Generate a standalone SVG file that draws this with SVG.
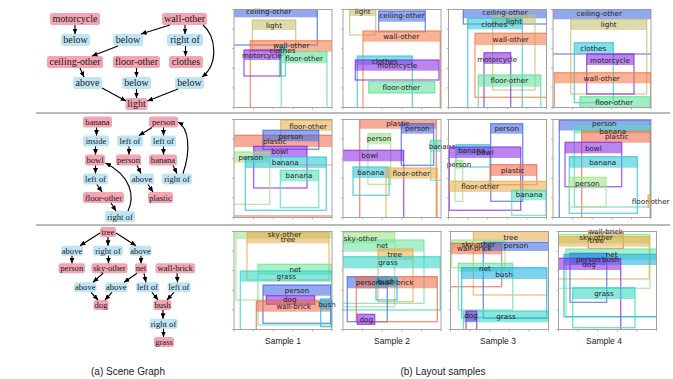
<svg xmlns="http://www.w3.org/2000/svg" width="673" height="379" viewBox="0 0 673 379">
<style>
.sg text{font-family:"Liberation Serif","Times New Roman",serif;text-anchor:middle;fill:#1a1a1a}
.r1 text{font-size:10px}
.r23 text{font-size:8.6px}
.obj{fill:#f3a5b3}
.rel{fill:#bfe5f4}
.edges path{stroke:#000;stroke-width:1.15;fill:none;marker-end:url(#ah)}
.frame{fill:none;stroke:#9a9a9a;stroke-width:0.9}
.tick{stroke:#9a9a9a;stroke-width:0.7;fill:none}
.o{fill:none;stroke:currentColor;stroke-width:1.3;stroke-opacity:0.75}
.f{fill:currentColor;fill-opacity:0.58;stroke:none}
.lab{font-family:"DejaVu Sans",sans-serif;font-size:7.2px;text-anchor:middle;fill:#222}
.cap{font-family:"Liberation Sans",Arial,sans-serif;text-anchor:middle;fill:#222}
.sep{stroke:#777;stroke-width:1}
.blue{color:#4169e1}.khaki{color:#c8c070}.coral{color:#f57a4a}.turq{color:#2cc6d8}
.purple{color:#8a2be2}.mint{color:#5ee09a}.tan{color:#e9ae4e}.salmon{color:#f26a4c}
.lgreen{color:#9ce48a}.aqua{color:#4fe0b8}.grass{color:#36d6c4}.bush{color:#1fb2e6}.net{color:#6ce4a0}
</style>
<defs>
<marker id="ah" markerUnits="userSpaceOnUse" markerWidth="5.5" markerHeight="5" refX="5.5" refY="2.5" orient="auto"><path d="M0,0L5.5,2.5L0,5z" fill="#000"/></marker>
<g id="ax"><rect class="frame" width="98" height="98"/><path class="tick" d="M-2,0h2M-2,19.6h2M-2,39.2h2M-2,58.8h2M-2,78.4h2M-2,98h2M0,98v2M19.6,98v2M39.2,98v2M58.8,98v2M78.4,98v2M98,98v2"/></g>
<clipPath id="c11"><rect x="234" y="9.5" width="98" height="98"/></clipPath>
<clipPath id="c12"><rect x="343" y="9.5" width="98" height="98"/></clipPath>
<clipPath id="c13"><rect x="448.5" y="9.5" width="98" height="98"/></clipPath>
<clipPath id="c14"><rect x="553" y="9.5" width="98" height="98"/></clipPath>
<clipPath id="c21"><rect x="234" y="119.5" width="98" height="98"/></clipPath>
<clipPath id="c22"><rect x="343" y="119.5" width="98" height="98"/></clipPath>
<clipPath id="c23"><rect x="448.5" y="119.5" width="98" height="98"/></clipPath>
<clipPath id="c24"><rect x="553" y="119.5" width="98" height="98"/></clipPath>
<clipPath id="c31"><rect x="234" y="231.5" width="98" height="98"/></clipPath>
<clipPath id="c32"><rect x="343" y="231.5" width="98" height="98"/></clipPath>
<clipPath id="c33"><rect x="450.5" y="231.5" width="98" height="98"/></clipPath>
<clipPath id="c34"><rect x="558.5" y="231.5" width="98" height="98"/></clipPath>
</defs>
<rect width="673" height="379" fill="#fff"/>
<line class="sep" x1="36" y1="113" x2="670" y2="113"/>
<line class="sep" x1="36" y1="225" x2="670" y2="225"/>

<!-- Scene graph row 1 -->
<g class="sg r1">
<g id="n1"><rect class="obj" x="50" y="13" width="50" height="12" rx="2.5"/><text x="75" y="22.4">motorcycle</text></g>
<g id="n2"><rect class="obj" x="162" y="13" width="45" height="12" rx="2.5"/><text x="184.5" y="22.4">wall-other</text></g>
<g id="n3"><rect class="rel" x="61" y="34" width="29" height="12" rx="2.5"/><text x="75.5" y="43.4">below</text></g>
<g id="n4"><rect class="rel" x="113" y="34" width="30" height="12" rx="2.5"/><text x="128" y="43.4">below</text></g>
<g id="n5"><rect class="rel" x="167" y="34" width="36" height="12" rx="2.5"/><text x="185" y="43.4">right of</text></g>
<g id="n6"><rect class="obj" x="47" y="56" width="56" height="12" rx="2.5"/><text x="75" y="65.4">ceiling-other</text></g>
<g id="n7"><rect class="obj" x="113" y="56" width="47" height="12" rx="2.5"/><text x="136.5" y="65.4">floor-other</text></g>
<g id="n8"><rect class="obj" x="169" y="56" width="34" height="12" rx="2.5"/><text x="186" y="65.4">clothes</text></g>
<g id="n9"><rect class="rel" x="73" y="77" width="29" height="12" rx="2.5"/><text x="87.5" y="86.4">above</text></g>
<g id="n10"><rect class="rel" x="122" y="77" width="29" height="12" rx="2.5"/><text x="136.5" y="86.4">below</text></g>
<g id="n11"><rect class="rel" x="175" y="77" width="29" height="12" rx="2.5"/><text x="189.5" y="86.4">below</text></g>
<g id="n12"><rect class="obj" x="125.5" y="98" width="22" height="12" rx="2.5"/><text x="136.5" y="107.4">light</text></g>
</g>

<!-- Scene graph row 2 -->
<g class="sg r23">
<g id="m1"><rect class="obj" x="83" y="116.5" width="29" height="11" rx="2.5"/><text x="97.5" y="125">banana</text></g>
<g id="m2"><rect class="obj" x="149" y="116.5" width="29" height="11" rx="2.5"/><text x="163.5" y="125">person</text></g>
<g id="m3"><rect class="rel" x="83" y="135.5" width="26" height="11" rx="2.5"/><text x="96" y="144">inside</text></g>
<g id="m4"><rect class="rel" x="117" y="135.5" width="26" height="11" rx="2.5"/><text x="130" y="144">left of</text></g>
<g id="m5"><rect class="rel" x="151" y="135.5" width="25" height="11" rx="2.5"/><text x="163.5" y="144">left of</text></g>
<g id="m6"><rect class="obj" x="85" y="154.5" width="20" height="11" rx="2.5"/><text x="95" y="163">bowl</text></g>
<g id="m7"><rect class="obj" x="116" y="154.5" width="25" height="11" rx="2.5"/><text x="128.5" y="163">person</text></g>
<g id="m8"><rect class="obj" x="149" y="154.5" width="28" height="11" rx="2.5"/><text x="163" y="163">banana</text></g>
<g id="m9"><rect class="rel" x="83" y="173.5" width="25" height="11" rx="2.5"/><text x="95.5" y="182">left of</text></g>
<g id="m10"><rect class="rel" x="130" y="173.5" width="24" height="11" rx="2.5"/><text x="142" y="182">above</text></g>
<g id="m11"><rect class="rel" x="162" y="173.5" width="30" height="11" rx="2.5"/><text x="177" y="182">right of</text></g>
<g id="m12"><rect class="obj" x="83" y="192" width="41" height="11" rx="2.5"/><text x="103.5" y="200.5">floor-other</text></g>
<g id="m13"><rect class="obj" x="148" y="192" width="25" height="11" rx="2.5"/><text x="160.5" y="200.5">plastic</text></g>
<g id="m14"><rect class="rel" x="105" y="211" width="30" height="11" rx="2.5"/><text x="120" y="219.5">right of</text></g>
</g>

<!-- Scene graph row 3 -->
<g class="sg r23">
<g id="k1"><rect class="obj" x="100" y="227" width="16" height="10" rx="2.5"/><text x="108" y="235">tree</text></g>
<g id="k2"><rect class="rel" x="61" y="245.7" width="22" height="10" rx="2.5"/><text x="72" y="253.7">above</text></g>
<g id="k3"><rect class="rel" x="93" y="245.7" width="30" height="10" rx="2.5"/><text x="108" y="253.7">right of</text></g>
<g id="k4"><rect class="rel" x="129.5" y="245.7" width="22" height="10" rx="2.5"/><text x="140.5" y="253.7">above</text></g>
<g id="k5"><rect class="obj" x="58.5" y="263.3" width="26.5" height="10" rx="2.5"/><text x="71.75" y="271.3">person</text></g>
<g id="k6"><rect class="obj" x="91.5" y="263.3" width="36" height="10" rx="2.5"/><text x="109.5" y="271.3">sky-other</text></g>
<g id="k7"><rect class="obj" x="135" y="263.3" width="12" height="10" rx="2.5"/><text x="141" y="271.3">net</text></g>
<g id="k8"><rect class="obj" x="155.5" y="263.3" width="39.5" height="10" rx="2.5"/><text x="175.25" y="271.3">wall-brick</text></g>
<g id="k9"><rect class="rel" x="74" y="282.3" width="22.5" height="10" rx="2.5"/><text x="85.25" y="290.3">above</text></g>
<g id="k10"><rect class="rel" x="105" y="282.3" width="22.5" height="10" rx="2.5"/><text x="116.25" y="290.3">above</text></g>
<g id="k11"><rect class="rel" x="136" y="282.3" width="23" height="10" rx="2.5"/><text x="147.5" y="290.3">left of</text></g>
<g id="k12"><rect class="rel" x="167.5" y="282.3" width="23" height="10" rx="2.5"/><text x="179" y="290.3">left of</text></g>
<g id="k13"><rect class="obj" x="93.5" y="300" width="15" height="10" rx="2.5"/><text x="101" y="308">dog</text></g>
<g id="k14"><rect class="obj" x="153.5" y="300" width="18" height="10" rx="2.5"/><text x="162.5" y="308">bush</text></g>
<g id="k15"><rect class="rel" x="149.5" y="318.7" width="28" height="10" rx="2.5"/><text x="163.5" y="326.7">right of</text></g>
<g id="k16"><rect class="obj" x="154" y="337" width="20" height="10" rx="2.5"/><text x="164" y="345">grass</text></g>
</g>

<g class="edges" id="connectors">
<path d="M75,25V34"/>
<path d="M170,25L141,34"/>
<path d="M185,25V34"/>
<path d="M203,25C216,36 219,64 202,77"/>
<path d="M118,46L92,56"/>
<path d="M185.5,46V56"/>
<path d="M80,68L84,77"/>
<path d="M136.5,68V77"/>
<path d="M102,88L126,101"/>
<path d="M136.5,89V98"/>
<path d="M178,89L147.5,101"/>

<path d="M96.5,127.5V135.5"/>
<path d="M95.5,146.5V154.5"/>
<path d="M95.5,165.5V173.5"/>
<path d="M97,184.5L102,192"/>
<path d="M111,203L116,211"/>
<path d="M128,211C135,196 131,176 105.5,163"/>
<path d="M152,127.5L139,135.5"/>
<path d="M163.5,127.5V135.5"/>
<path d="M129,146.5V154.5"/>
<path d="M163.5,146.5V154.5"/>
<path d="M137,165.5L141,173.5"/>
<path d="M173,165.5L177,173.5"/>
<path d="M148,184.5L153,192"/>
<path d="M183,173.5C191,150 189,128 178,122"/>

<path d="M100,233L80,245.7"/>
<path d="M108,237V245.7"/>
<path d="M116,233L136,245.7"/>
<path d="M72,255.7V263.3"/>
<path d="M108.5,255.7V263.3"/>
<path d="M141,255.7V263.3"/>
<path d="M103,273.3L93,282.3"/>
<path d="M137,273.3L124,282.3"/>
<path d="M144,273.3L146,282.3"/>
<path d="M177,273.3L177.5,282.3"/>
<path d="M91,292.3L98,300"/>
<path d="M112,292.3L105,300"/>
<path d="M152,292.3L158,300"/>
<path d="M174,292.3L167,300"/>
<path d="M163,310V318.7"/>
<path d="M163.5,328.7V337"/>
</g>

<!-- Row 1 layouts -->
<g id="r1p1">
<g clip-path="url(#c11)">
<g class="blue"><rect class="o" x="220" y="9.3" width="97.3" height="35.7"/><rect class="f" x="220" y="9.3" width="97.3" height="8"/></g>
<g class="khaki"><rect class="o" x="252.3" y="20" width="43.4" height="30"/><rect class="f" x="252.3" y="20" width="43.4" height="10"/></g>
<g class="coral"><rect class="o" x="250.3" y="40.7" width="86" height="72"/><rect class="f" x="250.3" y="40.7" width="86" height="11"/></g>
<g class="turq"><rect class="o" x="279.5" y="47" width="6" height="29"/><rect class="f" x="279.5" y="47" width="6" height="9"/></g>
<g class="purple"><rect class="o" x="244" y="50" width="36.7" height="26"/><rect class="f" x="244" y="50" width="36.7" height="10"/></g>
<g class="mint"><rect class="o" x="281.3" y="51.7" width="45.7" height="60"/><rect class="f" x="281.3" y="51.7" width="45.7" height="11.6"/></g>
</g>
<text class="lab" x="268.7" y="14">ceiling-other</text>
<text class="lab" x="274" y="27.5">light</text>
<text class="lab" x="291.3" y="47.6">wall-other</text>
<text class="lab" x="282.5" y="52.6">clothes</text>
<text class="lab" x="262" y="57.6">motorcycle</text>
<text class="lab" x="304" y="60.9">floor-other</text>
<use href="#ax" x="234" y="9.5"/>
</g>

<g id="r1p2">
<g clip-path="url(#c12)">
<g class="khaki"><rect class="o" x="349.7" y="2" width="26" height="33"/><rect class="f" x="349.7" y="2" width="26" height="14"/></g>
<g class="blue"><rect class="o" x="378.7" y="11" width="46.6" height="20.7"/><rect class="f" x="378.7" y="11" width="46.6" height="10.7"/></g>
<g class="coral"><rect class="o" x="363" y="31" width="77.3" height="82"/><rect class="f" x="363" y="31" width="77.3" height="10.7"/></g>
<g class="turq"><rect class="o" x="357.3" y="56" width="55" height="55"/><rect class="f" x="357.3" y="56" width="55" height="9"/></g>
<g class="purple"><rect class="o" x="355.3" y="60" width="83.7" height="20"/><rect class="f" x="355.3" y="60" width="83.7" height="10.7"/></g>
<g class="mint"><rect class="o" x="368.7" y="81.7" width="66" height="11.3"/><rect class="f" x="368.7" y="81.7" width="66" height="11.3"/></g>
</g>
<text class="lab" x="362.7" y="13.8">light</text>
<text class="lab" x="402" y="17.8">ceiling-other</text>
<text class="lab" x="401.3" y="38.5">wall-other</text>
<text class="lab" x="384.7" y="64.2">clothes</text>
<text class="lab" x="397.3" y="68.2">motorcycle</text>
<text class="lab" x="401.3" y="89.8">floor-other</text>
<use href="#ax" x="343" y="9.5"/>
</g>

<g id="r1p3">
<g clip-path="url(#c13)">
<g class="blue"><rect class="o" x="463.3" y="4" width="83.7" height="20"/><rect class="f" x="463.3" y="4" width="83.7" height="14.3"/></g>
<g class="khaki"><rect class="o" x="492.7" y="15" width="42.3" height="75"/><rect class="f" x="492.7" y="15" width="42.3" height="10"/></g>
<g class="turq"><rect class="o" x="467.7" y="18.3" width="54.6" height="95"/><rect class="f" x="467.7" y="18.3" width="54.6" height="11"/></g>
<g class="coral"><rect class="o" x="475" y="33.3" width="71.7" height="64"/><rect class="f" x="475" y="33.3" width="71.7" height="11.7"/></g>
<g class="purple"><rect class="o" x="484" y="52.7" width="26.7" height="60"/><rect class="f" x="484" y="52.7" width="26.7" height="11.3"/></g>
<g class="mint"><rect class="o" x="478.3" y="75" width="62.4" height="40"/><rect class="f" x="478.3" y="75" width="62.4" height="11.7"/></g>
</g>
<text class="lab" x="505" y="15.2">ceiling-other</text>
<text class="lab" x="514" y="23.5">light</text>
<text class="lab" x="494.3" y="26.5">clothes</text>
<text class="lab" x="510.7" y="41.5">wall-other</text>
<text class="lab" x="497.3" y="61.5">motorcycle</text>
<text class="lab" x="509.3" y="83.2">floor-other</text>
<use href="#ax" x="448.5" y="9.5"/>
</g>

<g id="r1p4">
<g clip-path="url(#c14)">
<g class="blue"><rect class="o" x="547" y="9.3" width="104.6" height="44.7"/><rect class="f" x="547" y="9.3" width="104.6" height="10"/></g>
<g class="khaki"><rect class="o" x="570.7" y="19.3" width="76" height="74.7"/><rect class="f" x="570.7" y="19.3" width="76" height="10.7"/></g>
<g class="turq"><rect class="o" x="574.3" y="42.7" width="39" height="60"/><rect class="f" x="574.3" y="42.7" width="39" height="10.6"/></g>
<g class="purple"><rect class="o" x="586.7" y="54" width="47.3" height="40"/><rect class="f" x="586.7" y="54" width="47.3" height="11"/></g>
<g class="coral"><rect class="o" x="554.3" y="72.7" width="96.4" height="40"/><rect class="f" x="554.3" y="72.7" width="96.4" height="10.6"/></g>
<g class="mint"><rect class="o" x="580" y="96.7" width="70" height="15"/><rect class="f" x="580" y="96.7" width="70" height="11.6"/></g>
</g>
<text class="lab" x="599.3" y="15.8">ceiling-other</text>
<text class="lab" x="608.7" y="26.8">light</text>
<text class="lab" x="593.3" y="50.8">clothes</text>
<text class="lab" x="610" y="62.5">motorcycle</text>
<text class="lab" x="601.7" y="80.8">wall-other</text>
<text class="lab" x="614" y="105.2">floor-other</text>
<use href="#ax" x="553" y="9.5"/>
</g>

<!-- Row 2 layouts -->
<g id="r2p1">
<g clip-path="url(#c21)">
<g class="salmon"><rect class="o" x="215" y="135.3" width="119" height="80.7"/><rect class="f" x="215" y="135.3" width="119" height="11.7"/></g>
<g class="tan"><rect class="o" x="280.7" y="120.3" width="56" height="44.7"/><rect class="f" x="280.7" y="120.3" width="56" height="10.7"/></g>
<g class="blue"><rect class="o" x="263" y="130.3" width="55.7" height="19"/><rect class="f" x="263" y="130.3" width="55.7" height="11"/></g>
<g class="purple"><rect class="o" x="253.7" y="146.3" width="53.3" height="41.7"/><rect class="f" x="253.7" y="146.3" width="53.3" height="10.7"/></g>
<g class="lgreen"><rect class="o" x="231.7" y="152" width="38" height="52.3"/><rect class="f" x="231.7" y="152" width="38" height="10.7"/></g>
<g class="turq"><rect class="o" x="245.3" y="157" width="81" height="53.3"/><rect class="f" x="245.3" y="157" width="81" height="11"/></g>
<g class="aqua"><rect class="o" x="280.3" y="170.3" width="38.4" height="37.4"/><rect class="f" x="280.3" y="170.3" width="38.4" height="11"/></g>
</g>
<text class="lab" x="308" y="128.5">floor-other</text>
<text class="lab" x="290.7" y="138.5">person</text>
<text class="lab" x="274.7" y="143.8">plastic</text>
<text class="lab" x="279.7" y="153.8">bowl</text>
<text class="lab" x="250.7" y="159.8">person</text>
<text class="lab" x="285.3" y="165.2">banana</text>
<text class="lab" x="299" y="177.8">banana</text>
<use href="#ax" x="234" y="119.5"/>
</g>

<g id="r2p2">
<g clip-path="url(#c22)">
<g class="salmon"><rect class="o" x="359.7" y="112" width="76.6" height="110"/><rect class="f" x="359.7" y="112" width="76.6" height="16.7"/></g>
<g class="blue"><rect class="o" x="401.3" y="123.7" width="32.4" height="41.6"/><rect class="f" x="401.3" y="123.7" width="32.4" height="10"/></g>
<g class="lgreen"><rect class="o" x="368" y="133.7" width="22.7" height="50.6"/><rect class="f" x="368" y="133.7" width="22.7" height="10.6"/></g>
<g class="aqua"><rect class="o" x="430.7" y="140.3" width="23.3" height="40"/><rect class="f" x="430.7" y="140.3" width="23.3" height="11.7"/></g>
<g class="purple"><rect class="o" x="335" y="150.3" width="68.7" height="72"/><rect class="f" x="335" y="150.3" width="68.7" height="11"/></g>
<g class="turq"><rect class="o" x="353" y="167" width="36" height="28.3"/><rect class="f" x="353" y="167" width="36" height="11"/></g>
<g class="tan"><rect class="o" x="386" y="168" width="51.3" height="54"/><rect class="f" x="386" y="168" width="51.3" height="10.7"/></g>
</g>
<text class="lab" x="398" y="125.5">plastic</text>
<text class="lab" x="417.3" y="130.5">person</text>
<text class="lab" x="379" y="141.2">person</text>
<text class="lab" x="442.3" y="148.8">banana</text>
<text class="lab" x="369.7" y="157.8">bowl</text>
<text class="lab" x="370.7" y="175.2">banana</text>
<text class="lab" x="411.3" y="176.2">floor-other</text>
<use href="#ax" x="343" y="119.5"/>
</g>

<g id="r2p3">
<g clip-path="url(#c23)">
<g class="blue"><rect class="o" x="490.7" y="123.7" width="32" height="77.6"/><rect class="f" x="490.7" y="123.7" width="32" height="10"/></g>
<g class="turq"><rect class="o" x="456" y="144.7" width="34" height="22.3"/><rect class="f" x="456" y="144.7" width="34" height="10.6"/></g>
<g class="purple"><rect class="o" x="449.3" y="147" width="71.4" height="63.3"/><rect class="f" x="449.3" y="147" width="71.4" height="11"/></g>
<g class="lgreen"><rect class="o" x="455" y="160.3" width="7.7" height="41"/><rect class="f" x="455" y="160.3" width="7.7" height="8.4"/></g>
<g class="salmon"><rect class="o" x="490" y="164.7" width="46.7" height="20"/><rect class="f" x="490" y="164.7" width="46.7" height="11.3"/></g>
<g class="tan"><rect class="o" x="413.3" y="181.3" width="133.4" height="40"/><rect class="f" x="413.3" y="181.3" width="133.4" height="10.7"/></g>
<g class="aqua"><rect class="o" x="511.7" y="190.3" width="34.3" height="25"/><rect class="f" x="511.7" y="190.3" width="34.3" height="10"/></g>
</g>
<text class="lab" x="506.7" y="131.2">person</text>
<text class="lab" x="471.7" y="152.8">banana</text>
<text class="lab" x="485" y="155.2">bowl</text>
<text class="lab" x="459" y="167.2">person</text>
<text class="lab" x="512.7" y="172.8">plastic</text>
<text class="lab" x="480" y="188.5">floor-other</text>
<text class="lab" x="529.3" y="197.3">banana</text>
<use href="#ax" x="448.5" y="119.5"/>
</g>

<g id="r2p4">
<g clip-path="url(#c24)">
<g class="blue"><rect class="o" x="559.3" y="120" width="91" height="99"/><rect class="f" x="559.3" y="120" width="91" height="10.5"/></g>
<g class="aqua"><rect class="o" x="574.3" y="126" width="76.7" height="81"/><rect class="f" x="574.3" y="126" width="76.7" height="7.5"/></g>
<g class="salmon"><rect class="o" x="581.7" y="131" width="70" height="90"/><rect class="f" x="581.7" y="131" width="70" height="11.7"/></g>
<g class="purple"><rect class="o" x="565" y="142.3" width="56.7" height="44.4"/><rect class="f" x="565" y="142.3" width="56.7" height="11"/></g>
<g class="turq"><rect class="o" x="569.3" y="156.7" width="68" height="56.6"/><rect class="f" x="569.3" y="156.7" width="68" height="11"/></g>
<g class="lgreen"><rect class="o" x="569.3" y="177.3" width="36.7" height="29.7"/><rect class="f" x="569.3" y="177.3" width="36.7" height="11"/></g>
<g class="tan"><rect class="o" x="648" y="195" width="6" height="12"/><rect class="f" x="648" y="195" width="6" height="12"/></g>
</g>
<text class="lab" x="604.3" y="126.2">person</text>
<text class="lab" x="612.7" y="133.5">banana</text>
<text class="lab" x="616.7" y="138.8">plastic</text>
<text class="lab" x="593.3" y="150.5">bowl</text>
<text class="lab" x="602.7" y="164.5">banana</text>
<text class="lab" x="587.3" y="185.5">person</text>
<text class="lab" x="650.7" y="203.5">floor-other</text>
<use href="#ax" x="553" y="119.5"/>
</g>

<!-- Row 3 layouts -->
<g id="r3p1">
<g clip-path="url(#c31)">
<g class="lgreen"><rect class="o" x="236" y="226" width="97" height="74"/><rect class="f" x="236" y="226" width="97" height="13"/></g>
<g class="tan"><rect class="o" x="247" y="232.3" width="82" height="47.7"/><rect class="f" x="247" y="232.3" width="82" height="11"/></g>
<g class="net"><rect class="o" x="258" y="264.3" width="74.3" height="60.7"/><rect class="f" x="258" y="264.3" width="74.3" height="10.7"/></g>
<g class="grass"><rect class="o" x="240.3" y="271" width="92" height="62"/><rect class="f" x="240.3" y="271" width="92" height="10.7"/></g>
<g class="blue"><rect class="o" x="263" y="285" width="67.7" height="38.3"/><rect class="f" x="263" y="285" width="67.7" height="10.7"/></g>
<g class="purple"><rect class="o" x="266.3" y="295.7" width="48.4" height="8.6"/><rect class="f" x="266.3" y="295.7" width="48.4" height="8.6"/></g>
<g class="salmon"><rect class="o" x="256.3" y="301" width="76" height="34"/><rect class="f" x="256.3" y="301" width="76" height="10.7"/></g>
<g class="bush"><rect class="o" x="320.7" y="299" width="10.6" height="27.7"/><rect class="f" x="320.7" y="299" width="10.6" height="11"/></g>
</g>
<text class="lab" x="284.7" y="236.5">sky-other</text>
<text class="lab" x="288" y="241.5">tree</text>
<text class="lab" x="295.3" y="271.8">net</text>
<text class="lab" x="286.3" y="279.2">grass</text>
<text class="lab" x="297" y="292.5">person</text>
<text class="lab" x="289.7" y="301.5">dog</text>
<text class="lab" x="293.7" y="308.5">wall-brick</text>
<text class="lab" x="327" y="306.5">bush</text>
<use href="#ax" x="234" y="231.5"/>
</g>

<g id="r3p2">
<g clip-path="url(#c32)">
<g class="lgreen"><rect class="o" x="326.7" y="232.3" width="68" height="74.4"/><rect class="f" x="326.7" y="232.3" width="68" height="11"/></g>
<g class="net"><rect class="o" x="340.6" y="240" width="83.4" height="63.3"/><rect class="f" x="340.6" y="240" width="83.4" height="11.7"/></g>
<g class="tan"><rect class="o" x="378" y="249" width="35" height="52.7"/><rect class="f" x="378" y="249" width="35" height="11"/></g>
<g class="grass"><rect class="o" x="335.7" y="256.7" width="104.6" height="53.3"/><rect class="f" x="335.7" y="256.7" width="104.6" height="11.6"/></g>
<g class="blue"><rect class="o" x="347.3" y="276.7" width="40" height="45"/><rect class="f" x="347.3" y="276.7" width="40" height="11.6"/></g>
<g class="salmon"><rect class="o" x="356.3" y="276.7" width="81" height="45"/><rect class="f" x="356.3" y="276.7" width="81" height="11.6"/></g>
<g class="bush"><rect class="o" x="376" y="277" width="21" height="23"/><rect class="f" x="376" y="277" width="21" height="10"/></g>
<g class="purple"><rect class="o" x="357.3" y="314.3" width="17.4" height="10"/><rect class="f" x="357.3" y="314.3" width="17.4" height="10"/></g>
</g>
<text class="lab" x="360.7" y="240.8">sky-other</text>
<text class="lab" x="382.3" y="248.2">net</text>
<text class="lab" x="394.7" y="256.8">tree</text>
<text class="lab" x="388" y="265.2">grass</text>
<text class="lab" x="368" y="285">person</text>
<text class="lab" x="396.3" y="284.8">wall-brick</text>
<text class="lab" x="386.3" y="284.2">bush</text>
<text class="lab" x="366.3" y="321.8">dog</text>
<use href="#ax" x="343" y="231.5"/>
</g>

<g id="r3p3">
<g clip-path="url(#c33)">
<g class="tan"><rect class="o" x="473.3" y="226" width="75.2" height="69"/><rect class="f" x="473.3" y="226" width="75.2" height="15"/></g>
<g class="lgreen"><rect class="o" x="451.6" y="240" width="53.4" height="27.7"/><rect class="f" x="451.6" y="240" width="53.4" height="8.3"/></g>
<g class="salmon"><rect class="o" x="447" y="243.3" width="54.7" height="43.4"/><rect class="f" x="447" y="243.3" width="54.7" height="11"/></g>
<g class="blue"><rect class="o" x="483.3" y="242.3" width="65.4" height="76"/><rect class="f" x="483.3" y="242.3" width="65.4" height="8.7"/></g>
<g class="net"><rect class="o" x="458.3" y="263.3" width="54.4" height="46.7"/><rect class="f" x="458.3" y="263.3" width="54.4" height="8.4"/></g>
<g class="bush"><rect class="o" x="461.7" y="267.7" width="85" height="50"/><rect class="f" x="461.7" y="267.7" width="85" height="11.3"/></g>
<g class="grass"><rect class="o" x="463.3" y="311" width="85.7" height="24"/><rect class="f" x="463.3" y="311" width="85.7" height="11.3"/></g>
<g class="purple"><rect class="o" x="466" y="311" width="10.7" height="24"/><rect class="f" x="466" y="311" width="10.7" height="10.7"/></g>
</g>
<text class="lab" x="510.7" y="240.2">tree</text>
<text class="lab" x="478.3" y="246.5">sky-other</text>
<text class="lab" x="474.3" y="250.8">wall-brick</text>
<text class="lab" x="516" y="248.2">person</text>
<text class="lab" x="485" y="270.8">net</text>
<text class="lab" x="504" y="276.5">bush</text>
<text class="lab" x="506" y="319.2">grass</text>
<text class="lab" x="471" y="318.2">dog</text>
<use href="#ax" x="450.5" y="231.5"/>
</g>

<g id="r3p4">
<g clip-path="url(#c34)">
<g class="salmon"><rect class="o" x="588.3" y="226" width="35" height="22.3"/><rect class="f" x="588.3" y="226" width="35" height="12.3"/></g>
<g class="lgreen"><rect class="o" x="542" y="234.3" width="108" height="54"/><rect class="f" x="542" y="234.3" width="108" height="9"/></g>
<g class="tan"><rect class="o" x="544" y="236.7" width="105.3" height="42.3"/><rect class="f" x="544" y="236.7" width="105.3" height="10"/></g>
<g class="net"><rect class="o" x="566" y="249" width="91" height="67.7"/><rect class="f" x="566" y="249" width="91" height="11"/></g>
<g class="blue"><rect class="o" x="570" y="253.3" width="36.7" height="49"/><rect class="f" x="570" y="253.3" width="36.7" height="11.7"/></g>
<g class="bush"><rect class="o" x="564" y="254.3" width="93" height="62.4"/><rect class="f" x="564" y="254.3" width="93" height="10.7"/></g>
<g class="purple"><rect class="o" x="557.3" y="258.3" width="63.4" height="76"/><rect class="f" x="557.3" y="258.3" width="63.4" height="11.7"/></g>
<g class="grass"><rect class="o" x="572.7" y="287.7" width="62.3" height="40"/><rect class="f" x="572.7" y="287.7" width="62.3" height="11.3"/></g>
</g>
<text class="lab" x="605.7" y="233.5">wall-brick</text>
<text class="lab" x="596" y="239.8">sky-other</text>
<text class="lab" x="596.7" y="243.2">tree</text>
<text class="lab" x="611.7" y="256.8">net</text>
<text class="lab" x="588.3" y="261.5">person</text>
<text class="lab" x="610.7" y="262.2">bush</text>
<text class="lab" x="589" y="266.5">dog</text>
<text class="lab" x="604" y="295.8">grass</text>
<use href="#ax" x="558.5" y="231.5"/>
</g>

<g id="captions">
<text class="cap" x="283" y="343.5" font-size="8.5">Sample 1</text>
<text class="cap" x="392" y="343.5" font-size="8.5">Sample 2</text>
<text class="cap" x="498" y="343.5" font-size="8.5">Sample 3</text>
<text class="cap" x="604" y="343.5" font-size="8.5">Sample 4</text>
<text class="cap" x="128" y="374.5" font-size="10">(a) Scene Graph</text>
<text class="cap" x="443" y="374.5" font-size="10">(b) Layout samples</text>
</g>
</svg>
